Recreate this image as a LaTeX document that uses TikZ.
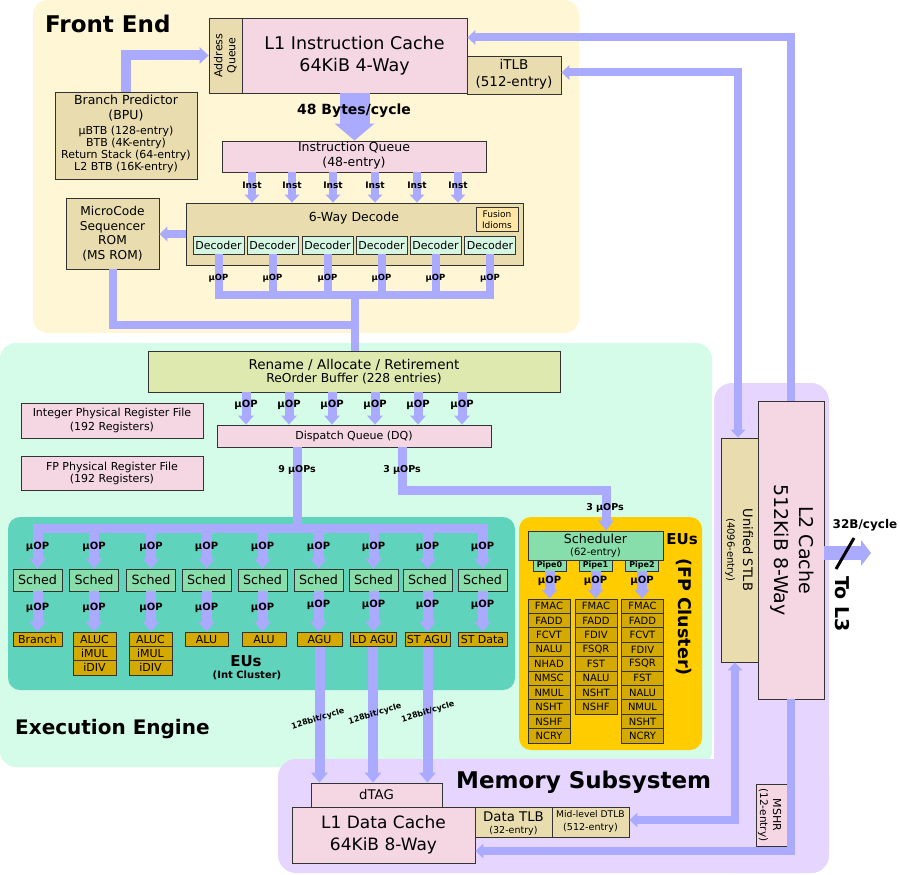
\documentclass[tikz,border=0pt]{standalone}
\usepackage{fontspec}
\setmainfont{DejaVu Sans}
\usetikzlibrary{arrows.meta}
\definecolor{febg}{HTML}{FFF6D5}
\definecolor{eebg}{HTML}{D5FCE8}
\definecolor{msbg}{HTML}{E5D5FF}
\definecolor{intbg}{HTML}{5FD3BC}
\definecolor{fpbg}{HTML}{FFCC00}
\definecolor{arrc}{HTML}{AAAAFF}
\definecolor{pinkc}{HTML}{F4D7E3}
\definecolor{tanc}{HTML}{E9DDAF}
\definecolor{decc}{HTML}{D5F6E3}
\definecolor{fusc}{HTML}{FFE6A5}
\definecolor{schc}{HTML}{87DEAA}
\definecolor{euc}{HTML}{D4AA00}
\definecolor{renc}{HTML}{DDE9AF}
\definecolor{bord}{HTML}{333333}
\newcommand{\fsz}[2]{\fontsize{#1}{#2}\selectfont}
\begin{document}
\begin{tikzpicture}[x=1pt,y=-1pt,
 bx/.style={draw=bord,line width=0.9pt,inner sep=0pt,align=center},
 tx/.style={inner sep=0pt,anchor=base},
 lb/.style={inner sep=0pt,anchor=base},
 pp/.style={draw=arrc,line width=8pt},
 hd/.style={-{Triangle[width=15pt,length=8pt,line width=0pt]}},
 hh/.style={{Triangle[width=15pt,length=8pt,line width=0pt]}-{Triangle[width=15pt,length=8pt,line width=0pt]}},
 hb/.style={-{Triangle[width=17pt,length=10pt,line width=0pt]}},
]
\useasboundingbox (0,0) rectangle (900,875);
% regions
\fill[febg,rounded corners=15pt] (33,0) rectangle (579,333);
\fill[eebg,rounded corners=16pt] (0,343) rectangle (712,767);
\fill[msbg,rounded corners=18pt] (714,383) rectangle (829,873);
\fill[msbg,rounded corners=18pt] (278,759) rectangle (829,873);
\fill[intbg,rounded corners=12pt] (8,517) rectangle (515,690);
\fill[fpbg,rounded corners=12pt] (519,517) rectangle (702,750);

% ---------- Front end ----------
\node[tx,anchor=base west,font=\bfseries\fsz{23}{26}] (fe) at (45,32.5) {Front End};
\node[bx,fill=tanc,minimum width=33,minimum height=75] (aq) at (225.5,55.5) {};
\node[rotate=90,inner sep=0pt,align=center,font=\fsz{11}{13}] (aqt) at (aq.center) {Address\\Queue};
\node[bx,fill=pinkc,minimum width=225,minimum height=75] (l1i) at (354.5,55.5) {};
\node[tx,font=\fsz{17.5}{20}] (l1it1) at (354.5,50) {L1 Instruction Cache};
\node[tx,font=\fsz{17.5}{20}] (l1it2) at (354.5,72) {64KiB 4-Way};
\node[bx,fill=tanc,minimum width=94,minimum height=38] (itlb) at (514,75) {};
\node[tx,font=\fsz{13.5}{15}] (itlbt1) at (514,70) {iTLB};
\node[tx,font=\fsz{13.5}{15}] (itlbt2) at (514,87) {(512-entry)};
\node[bx,fill=tanc,minimum width=142,minimum height=87] (bpu) at (126,135.5) {};
\node[tx,font=\fsz{12.5}{15}] (bpu1) at (126,104) {Branch Predictor};
\node[tx,font=\fsz{12.5}{15}] (bpu2) at (126,119.5) {(BPU)};
\node[tx,font=\fsz{11}{12}] (bpu3) at (126,134.5) {µBTB (128-entry)};
\node[tx,font=\fsz{11}{12}] (bpu4) at (126,146.5) {BTB (4K-entry)};
\node[tx,font=\fsz{11}{12}] (bpu5) at (126,158.5) {Return Stack (64-entry)};
\node[tx,font=\fsz{11}{12}] (bpu6) at (126,170.5) {L2 BTB (16K-entry)};
\node[bx,fill=pinkc,minimum width=264,minimum height=31] (iq) at (354,156.5) {};
\node[tx,font=\fsz{12.5}{14}] (iqt1) at (354,151) {Instruction Queue};
\node[tx,font=\fsz{12.5}{14}] (iqt2) at (354,166.5) {(48-entry)};
\node[bx,fill=tanc,minimum width=93,minimum height=71] (ms) at (112.5,233.5) {};
\node[tx,font=\fsz{12.2}{14}] (ms1) at (112.5,215.7) {MicroCode};
\node[tx,font=\fsz{12.2}{14}] (ms2) at (112.5,230) {Sequencer};
\node[tx,font=\fsz{12.2}{14}] (ms3) at (112.5,244.3) {ROM};
\node[tx,font=\fsz{12.2}{14}] (ms4) at (112.5,259) {(MS ROM)};
\node[bx,fill=tanc,minimum width=337,minimum height=62] (dec) at (354.5,234) {};
\node[tx,font=\fsz{12.5}{14}] (dect) at (354,221.7) {6-Way Decode};
\node[bx,fill=fusc,minimum width=42,minimum height=24] (fus) at (497,219) {};
\node[tx,font=\fsz{9}{10}] (fus1) at (497,217.3) {Fusion};
\node[tx,font=\fsz{9}{10}] (fus2) at (497,228.3) {Idioms};
\foreach \k/\x in {1/218.5,2/272.5,3/327.5,4/381.5,5/435.5,6/490}
  \node[bx,fill=decc,minimum width=51,minimum height=18,font=\fsz{11}{12}] (d\k) at (\x,245) {Decoder};

% ---------- Execution engine ----------
\node[tx,anchor=base west,font=\bfseries\fsz{20}{24}] (ee) at (15,734) {Execution Engine};
\node[bx,fill=renc,minimum width=412,minimum height=41] (ren) at (354,371.5) {};
\node[tx,font=\fsz{13.5}{15}] (ren1) at (354,369) {Rename / Allocate / Retirement};
\node[tx,font=\fsz{12.3}{14}] (ren2) at (354,382.7) {ReOrder Buffer (228 entries)};
\node[bx,fill=pinkc,minimum width=274,minimum height=22,font=\fsz{11}{12}] (dq) at (354,436) {Dispatch Queue (DQ)};
\node[bx,fill=pinkc,minimum width=182,minimum height=35] (iprf) at (112,420.5) {};
\node[tx,font=\fsz{11}{12}] (iprf1) at (112,416.7) {Integer Physical Register File};
\node[tx,font=\fsz{11}{12}] (iprf2) at (112,430) {(192 Registers)};
\node[bx,fill=pinkc,minimum width=182,minimum height=34] (fprf) at (112,473) {};
\node[tx,font=\fsz{11}{12}] (fprf1) at (112,470) {FP Physical Register File};
\node[tx,font=\fsz{11}{12}] (fprf2) at (112,482.7) {(192 Registers)};

% int cluster
\foreach \k/\x in {1/37.5,2/94,3/151,4/206.5,5/262.5,6/318.5,7/373.5,8/427.5,9/482.5}
  \node[bx,fill=schc,minimum width=49,minimum height=22,font=\fsz{12.7}{14}] (s\k) at (\x,580) {Sched};
\begin{scope}[every node/.style={bx,fill=euc,minimum height=14.3,font=\fsz{11}{12}}]
\node[minimum width=49] (e1) at (37.5,639.2) {Branch};
\node[minimum width=43] (e2) at (94.5,639.2) {ALUC};
\node[minimum width=43] (e2b) at (94.5,653.5) {iMUL};
\node[minimum width=43] (e2c) at (94.5,667.8) {iDIV};
\node[minimum width=43] (e3) at (150.5,639.2) {ALUC};
\node[minimum width=43] (e3b) at (150.5,653.5) {iMUL};
\node[minimum width=43] (e3c) at (150.5,667.8) {iDIV};
\node[minimum width=43] (e4) at (206.5,639.2) {ALU};
\node[minimum width=44] (e5) at (264,639.2) {ALU};
\node[minimum width=45] (e6) at (319.5,639.2) {AGU};
\node[minimum width=46] (e7) at (373,639.2) {LD AGU};
\node[minimum width=45] (e8) at (427.5,639.2) {ST AGU};
\node[minimum width=49] (e9) at (482.5,639.2) {ST Data};
\end{scope}
\node[tx,font=\bfseries\fsz{15}{16}] (eui) at (246,666.7) {EUs};
\node[tx,font=\bfseries\fsz{10}{11}] (euit) at (247,678.3) {(Int Cluster)};

% FP cluster
\node[bx,fill=schc,minimum width=135,minimum height=29] (sch) at (595.5,545.5) {};
\node[tx,font=\fsz{12.6}{14}] (sch1) at (595.5,543.3) {Scheduler};
\node[tx,font=\fsz{10}{11}] (sch2) at (595.5,555) {(62-entry)};
\foreach \k/\x in {0/549.5,1/595.5,2/642}
  \node[bx,fill=schc,minimum width=33,minimum height=11,font=\bfseries\fsz{8}{9}] (p\k) at (\x,565.5) {Pipe\k};
\begin{scope}[every node/.style={bx,fill=euc,minimum width=42,minimum height=14.4,font=\fsz{10}{11}}]
\foreach \t [count=\k] in {FMAC,FADD,FCVT,NALU,NHAD,NMSC,NMUL,NSHT,NSHF,NCRY}
  \node (fa\k) at (549,{606.2+14.4*(\k-1)}) {\t};
\foreach \t [count=\k] in {FMAC,FADD,FDIV,FSQR,FST,NALU,NSHT,NSHF}
  \node (fb\k) at (596,{606.2+14.4*(\k-1)}) {\t};
\foreach \t [count=\k] in {FMAC,FADD,FCVT,FDIV,FSQR,FST,NALU,NMUL,NSHT,NCRY}
  \node (fc\k) at (642.5,{606.2+14.4*(\k-1)}) {\t};
\end{scope}
\node[tx,font=\bfseries\fsz{15}{16}] (euf) at (682,544.3) {EUs};
\node[rotate=-90,inner sep=0pt,font=\bfseries\fsz{17.5}{18}] (eufc) at (684,617) {(FP Cluster)};

% ---------- Memory ----------
\node[tx,anchor=base west,font=\bfseries\fsz{23}{26}] (mem) at (456,788) {Memory Subsystem};
\node[bx,fill=pinkc,minimum width=66,minimum height=298] (l2) at (791,550) {};
\node[rotate=-90,inner sep=0pt,align=center,font=\fsz{19}{25}] (l2t) at (792.5,550) {L2 Cache\\512KiB 8-Way};
\node[bx,fill=tanc,minimum width=37,minimum height=224] (stlb) at (739.5,550) {};
\node[rotate=-90,inner sep=0pt,font=\fsz{13}{14}] (stlb1) at (748,550) {Unified STLB};
\node[rotate=-90,inner sep=0pt,font=\fsz{10}{11}] (stlb2) at (730,550) {(4096-entry)};
\node[bx,fill=pinkc,minimum width=131,minimum height=24,font=\fsz{13.3}{14}] (dtag) at (376.5,795) {dTAG};
\node[bx,fill=pinkc,minimum width=183,minimum height=56] (l1d) at (383.5,835) {};
\node[tx,font=\fsz{17}{20}] (l1d1) at (383.5,828.3) {L1 Data Cache};
\node[tx,font=\fsz{17}{20}] (l1d2) at (383.5,850) {64KiB 8-Way};
\node[bx,fill=tanc,minimum width=77,minimum height=30] (dtlb) at (513.5,822) {};
\node[tx,font=\fsz{13.3}{14}] (dtlb1) at (513.5,821.7) {Data TLB};
\node[tx,font=\fsz{9.5}{10}] (dtlb2) at (513.5,833.3) {(32-entry)};
\node[bx,fill=tanc,minimum width=77,minimum height=30] (mdtlb) at (590.5,822) {};
\node[tx,font=\fsz{9.2}{10}] (mdtlb1) at (590.5,817.3) {Mid-level DTLB};
\node[tx,font=\fsz{9.6}{10}] (mdtlb2) at (590.5,830.7) {(512-entry)};
\node[bx,fill=pinkc,minimum width=31,minimum height=62] (mshr) at (771.5,815) {};
\node[rotate=-90,inner sep=0pt,font=\fsz{11}{12}] (mshr1) at (777,815) {MSHR};
\node[rotate=-90,inner sep=0pt,font=\fsz{10.5}{11}] (mshr2) at (763,815) {(12-entry)};

% ---------- connectors ----------
\draw[pp,line width=10pt,-{Triangle[width=17pt,length=9pt,line width=0pt]}] (bpu.north) |- (aq.west);
\draw[pp,line width=30pt,-{Triangle[width=40pt,length=17pt,line width=0pt]}] (l1i.south) -- (iq.north -| l1i.south);
\foreach \k/\x in {1/252,2/292,3/333,4/375,5/417,6/458}{
  \coordinate (ic\k) at (\x,0);
  \draw[pp,hd] (iq.south -| ic\k) -- (dec.north -| ic\k);}
\draw[pp,hd] (dec.west) -- (ms.east |- dec.west);
\coordinate (busm) at (0,295);
\coordinate (busl) at (0,299);
\coordinate (busc) at (355,295);
\coordinate (msj) at (355,325);
\draw[pp] (d1.south) -- (d1 |- busm) -- (d6 |- busm) -- (d6.south);
\foreach \k in {2,...,5} \draw[pp] (d\k.south) -- (d\k |- busl);
\draw[pp] (busc) -- (ren.north -| busc);
\draw[pp] (ms.south) |- (msj);
\foreach \k/\x in {1/246,2/289,3/332,4/375,5/418,6/462}{
  \coordinate (rc\k) at (\x,0);
  \draw[pp,line width=9pt,-{Triangle[width=16pt,length=9pt,line width=0pt]}] (ren.south -| rc\k) -- (dq.north -| rc\k);}
\coordinate (ib) at (297,528);
\coordinate (ibt) at (0,523.5);
\draw[pp,line width=9pt] (dq.south -| ib) -- (ib);
\draw[pp,line width=9pt] (s1 |- ib) -- (s9 |- ib);
\foreach \k in {1,...,9} \draw[pp,line width=10pt,hb] (s\k |- ibt) -- (s\k.north);
\foreach \k/\e in {1/e1,2/e2,3/e3,4/e4,5/e5,6/e6,7/e7,8/e8,9/e9}
  \draw[pp,line width=10pt,hb] (s\k.south) -- (s\k.south |- \e.north);
\foreach \e in {e6,e7,e8} \draw[pp,line width=10pt,hb] (\e.south) -- (dtag.north -| \e.south);
\coordinate (c3a) at (402,490);
\coordinate (c3b) at (606,490);
\draw[pp,line width=9pt,-{Triangle[width=16pt,length=10pt,line width=0pt]}] (dq.south -| c3a) -- (c3a) -- (c3b) -- (sch.north -| c3b);
\draw[pp,line width=10pt,-{Triangle[width=16pt,length=9pt,line width=0pt]}] (p0.south) -- (p0.south |- fa1.north);
\draw[pp,line width=10pt,-{Triangle[width=16pt,length=9pt,line width=0pt]}] (p1.south) -- (p1.south |- fb1.north);
\draw[pp,line width=10pt,-{Triangle[width=16pt,length=9pt,line width=0pt]}] (p2.south) -- (p2.south |- fc1.north);
\coordinate (l2tp) at (791,37.5);
\draw[pp,hd] (l2.north) -- (l2tp) -- (l1i.east |- l2tp);
\coordinate (it) at (738,72.5);
\draw[pp,hh] (itlb.east |- it) -- (it) -- (it |- stlb.north);
\coordinate (dt) at (735,820);
\draw[pp,hh] (mdtlb.east |- dt) -- (dt) -- (dt |- stlb.south);
\coordinate (l2b) at (791,851);
\draw[pp,hd] (l2.south) -- (l2b) -- (l1d.east |- l2b);
\coordinate (l3) at (871,553);
\draw[pp,line width=14pt,-{Triangle[width=26pt,length=10pt,line width=0pt]}] (l2.east |- l3) -- (l3);
\coordinate (sl1) at (854,538);
\coordinate (sl2) at (836,569);
\draw[line width=3pt] (sl1) -- (sl2);

% ---------- labels ----------
\node[tx,font=\bfseries\fsz{14}{16}] (b48) at (354,114) {48 Bytes/cycle};
\foreach \k/\x in {1/252,2/292,3/333,4/375,5/417,6/458}
  \node[lb,font=\bfseries\fsz{9}{10}] (il\k) at (\x,188.3) {Inst};
\foreach \k/\x in {1/218.5,2/272.5,3/327.5,4/381.5,5/435.5,6/490}
  \node[lb,font=\bfseries\fsz{8.5}{9}] (dl\k) at (\x,280.7) {µOP};
\foreach \k/\x in {1/246,2/289,3/332,4/375,5/418,6/462}
  \node[lb,font=\bfseries\fsz{10}{11}] (rl\k) at (\x,407.7) {µOP};
\node[lb,font=\bfseries\fsz{9.5}{10}] (u9) at (297,472.7) {9 µOPs};
\node[lb,font=\bfseries\fsz{9.5}{10}] (u3) at (402,472.7) {3 µOPs};
\node[lb,font=\bfseries\fsz{9.5}{10}] (u3b) at (605,510) {3 µOPs};
\foreach \k/\x in {1/37.5,2/94,3/151,4/206.5,5/262.5,6/318.5,7/373.5,8/427.5,9/482.5}
  \node[lb,font=\bfseries\fsz{10}{11}] (sa\k) at (\x,549) {µOP};
\foreach \k/\x in {1/37.5,2/94,3/151,4/206.5,5/262.5}
  \node[lb,font=\bfseries\fsz{10}{11}] (sb\k) at (\x,610) {µOP};
\foreach \k/\x in {6/318.5,7/373.5,8/427.5,9/482.5}
  \node[lb,font=\bfseries\fsz{10}{11}] (sb\k) at (\x,607) {µOP};
\foreach \k/\x in {0/549.5,1/595.5,2/642}
  \node[lb,font=\bfseries\fsz{10}{11}] (pl\k) at (\x,583.3) {µOP};
\node[rotate=17,inner sep=0pt,font=\bfseries\fsz{8}{9}] (bw1) at (318,719) {128bit/cycle};
\node[rotate=17,inner sep=0pt,font=\bfseries\fsz{8}{9}] (bw2) at (375,714) {128bit/cycle};
\node[rotate=17,inner sep=0pt,font=\bfseries\fsz{8}{9}] (bw3) at (428,712) {128bit/cycle};
\node[lb,font=\bfseries\fsz{12}{13}] (b32) at (865,528.3) {32B/cycle};
\node[rotate=-90,inner sep=0pt,font=\bfseries\fsz{19}{20}] (tol3) at (842.5,604) {To L3};
\end{tikzpicture}
\end{document}
